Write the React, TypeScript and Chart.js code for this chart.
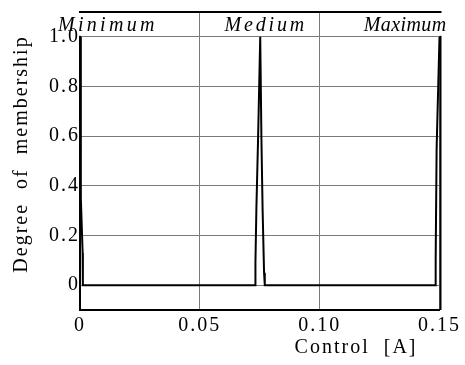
import React, { useEffect, useRef } from "react";
import { Chart, registerables } from "chart.js";

Chart.register(...registerables);

// Control current [A] and degree of membership (one polyline through the three fuzzy sets)
const controlValues = [
  0, 0.0003, 0.0004, 0.0011, 0.0012,
  0.0731, 0.0732, 0.0736, 0.0743, 0.0752, 0.0757, 0.0762, 0.0768, 0.0771,
  0.1483, 0.1484, 0.1488, 0.15,
];
const membershipValues = [
  1.0, 0.58, 0.35, 0.13, 0,
  0, 0.09, 0.31, 0.59, 1.0, 0.59, 0.3, 0.05, 0,
  0, 0.1, 0.55, 1.0,
];

const setNames = ["Minimum", "Medium", "Maximum"];
const setCenters = [0, 0.075, 0.15];

const xTickValues = [0, 0.05, 0.1, 0.15];
const xTickLabels = ["0", "0.05", "0.10", "0.15"];
const yTickValues = [0, 0.2, 0.4, 0.6, 0.8, 1.0];
const yTickLabels = ["0", "0.2", "0.4", "0.6", "0.8", "1.0"];

const SERIF = "'Liberation Serif', 'DejaVu Serif', serif";
const labelSpacing = ["3.3px", "2.8px", "0.4px"];

const framePlugin = {
  id: "frameAndLabels",
  beforeUpdate(chart: any) {
    chart.ctx.letterSpacing = "2px";
  },
  beforeDraw(chart: any) {
    const ctx = chart.ctx;
    ctx.save();
    ctx.fillStyle = "#ffffff";
    ctx.fillRect(0, 0, chart.width, chart.height);
    ctx.restore();
    ctx.letterSpacing = "2px";
  },
  afterDatasetsDraw(chart: any) {
    const ctx = chart.ctx;
    const { top, bottom, left, right } = chart.chartArea;
    ctx.save();
    ctx.strokeStyle = "#000";
    ctx.lineWidth = 2;
    ctx.beginPath();
    ctx.moveTo(left - 1, top);
    ctx.lineTo(right + 2, top);
    ctx.moveTo(right + 1, top);
    ctx.lineTo(right + 1, bottom);
    ctx.stroke();
    ctx.restore();
  },
  afterDraw(chart: any) {
    const ctx = chart.ctx;
    const xs = chart.scales.x;
    const ys = chart.scales.y;
    const { top, left } = chart.chartArea;
    const boxBottom = ys.getPixelForValue(1.0) - 1;
    ctx.save();
    ctx.font = `italic 20px ${SERIF}`;
    ctx.textBaseline = "alphabetic";
    setNames.forEach((name, i) => {
      ctx.letterSpacing = labelSpacing[i];
      const w = ctx.measureText(name).width;
      const cx = xs.getPixelForValue(setCenters[i]);
      let x0: number;
      if (i === 0) x0 = cx - 22;
      else if (i === setNames.length - 1) x0 = cx + 7 - w;
      else x0 = cx + 6 - w / 2;
      const bx = Math.max(x0 - 1, left - 2);
      ctx.fillStyle = "#fff";
      ctx.fillRect(bx, top + 1, x0 + w - bx, boxBottom - top - 1);
      ctx.fillStyle = "#000";
      ctx.textAlign = "left";
      ctx.fillText(name, x0, top + 19);
    });
    ctx.restore();
  },
};

export default function App() {
  const canvasRef = useRef<HTMLCanvasElement | null>(null);

  useEffect(() => {
    const canvas = canvasRef.current;
    if (!canvas) return;
    const points = controlValues.map((x, i) => ({ x, y: membershipValues[i] }));
    const chart = new Chart(canvas, {
      type: "line",
      data: {
        datasets: [
          {
            label: "Degree of membership",
            data: points,
            borderColor: "#000",
            borderWidth: 2,
            pointRadius: 0,
            tension: 0,
            fill: false,
            clip: 4,
          },
        ],
      },
      options: {
        animation: false,
        responsive: false,
        layout: { padding: { top: 8, right: 24, bottom: 0, left: 0 } },
        plugins: {
          legend: { display: false },
          tooltip: { enabled: false },
        },
        scales: {
          x: {
            type: "linear",
            min: 0,
            max: 0.15,
            afterBuildTicks: (scale: any) => {
              scale.ticks = xTickValues.map((v) => ({ value: v }));
            },
            afterFit: (scale: any) => {
              scale.height = 55;
            },
            ticks: {
              autoSkip: false,
              maxRotation: 0,
              minRotation: 0,
              padding: 4,
              color: "#000",
              font: { family: SERIF, size: 20 },
              callback: (_v: any, i: number) => xTickLabels[i],
            },
            grid: { color: "#7a7a7a", lineWidth: 1, drawTicks: false },
            border: { display: true, color: "#000", width: 2 },
            title: {
              display: true,
              text: "Control  [A]\u2003",
              align: "end",
              color: "#000",
              font: { family: SERIF, size: 20 },
              padding: { top: 0, bottom: 5 },
            },
          },
          y: {
            type: "linear",
            min: -0.1,
            max: 1.1,
            afterBuildTicks: (scale: any) => {
              scale.ticks = yTickValues.map((v) => ({ value: v }));
            },
            afterFit: (scale: any) => {
              scale.width = 80;
            },
            ticks: {
              autoSkip: false,
              padding: 0,
              color: "#000",
              font: { family: SERIF, size: 20 },
              callback: (_v: any, i: number) => yTickLabels[i],
            },
            grid: { color: "#7a7a7a", lineWidth: 1, drawTicks: false },
            border: { display: true, color: "#000", width: 2 },
            title: {
              display: true,
              text: "  Degree  of  membership",
              color: "#000",
              font: { family: SERIF, size: 20 },
              padding: { top: 10, bottom: 0 },
            },
          },
        },
      },
      plugins: [framePlugin],
    } as any);
    return () => chart.destroy();
  }, []);

  return (
    <div style={{ position: "fixed", left: 0, top: 0, width: 465, height: 365, background: "#fff" }}>
      <canvas ref={canvasRef} width={465} height={365} style={{ display: "block" }} />
    </div>
  );
}
